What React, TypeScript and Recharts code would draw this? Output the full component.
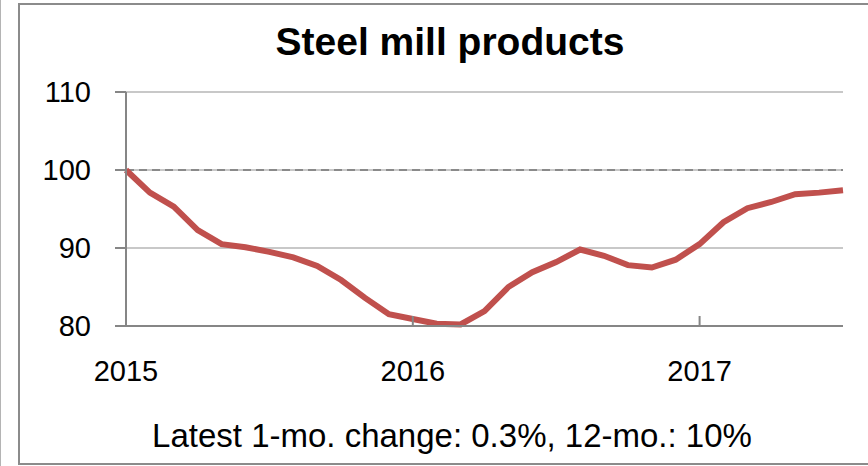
import React from 'react';
import { LineChart, Line, XAxis, YAxis, CartesianGrid, ReferenceLine } from 'recharts';

const months = [
    '2015-01', '2015-02', '2015-03', '2015-04', '2015-05', '2015-06',
    '2015-07', '2015-08', '2015-09', '2015-10', '2015-11', '2015-12',
    '2016-01', '2016-02', '2016-03', '2016-04', '2016-05', '2016-06',
    '2016-07', '2016-08', '2016-09', '2016-10', '2016-11', '2016-12',
    '2017-01', '2017-02', '2017-03', '2017-04', '2017-05', '2017-06',
    '2017-07',
];
const steelIndex = [
    100, 97.1, 95.3, 92.3, 90.5, 90.1,
    89.5, 88.8, 87.7, 85.9, 83.6, 81.5,
    80.9, 80.3, 80.2, 81.9, 85.0, 86.9,
    88.2, 89.8, 89.0, 87.8, 87.5, 88.5,
    90.5, 93.3, 95.1, 95.9, 96.9, 97.1,
    97.4,
];
const yearTicks = ['2015-01', '2016-01', '2017-01'];
const yTicks = [80, 90, 100, 110];
const title = 'Steel mill products';
const footnote = 'Latest 1-mo. change: 0.3%, 12-mo.: 10%';

const font = '"Liberation Sans", Arial, sans-serif';
const axisGray = '#868686';

const YearTick = (props: any) => {
    const { x, y, payload } = props;
    return (
        <g>
            <line x1={x} x2={x} y1={y - 10} y2={y} stroke={axisGray} strokeWidth={2} />
            <text x={x} y={y + 55} textAnchor="middle" fontSize={29} fontFamily={font} fill="#000">
                {String(payload.value).slice(0, 4)}
            </text>
        </g>
    );
};

const App = () => {
    const data = months.map((m, i) => ({ month: m, value: steelIndex[i] }));
    return (
        <div style={{ position: 'absolute', left: 0, top: 0, width: 868, height: 466, overflow: 'hidden', background: '#fff' }}>
            <div style={{ position: 'absolute', left: 0, top: 0, width: 1, height: 466, background: '#b4b4b4' }} />
            <div
                style={{
                    position: 'absolute', left: 18, top: 3, width: 900, height: 462,
                    boxSizing: 'border-box', border: '2px solid #8b8b8b',
                }}
            />
            <div style={{ position: 'absolute', left: 0, top: 0 }}>
                <LineChart width={868} height={466} data={data} margin={{ top: 92, right: 25, bottom: 100, left: 0 }}>
                    <CartesianGrid vertical={false} stroke="#c8c8c8" strokeWidth={2} />
                    <XAxis
                        dataKey="month"
                        ticks={yearTicks}
                        interval={0}
                        height={40}
                        tickSize={0}
                        tickMargin={0}
                        tickLine={false}
                        axisLine={{ stroke: axisGray, strokeWidth: 2 }}
                        tick={<YearTick />}
                    />
                    <YAxis
                        domain={[80, 110]}
                        ticks={yTicks}
                        width={126}
                        tickSize={11}
                        tickMargin={24}
                        tickLine={{ stroke: axisGray, strokeWidth: 2 }}
                        axisLine={{ stroke: axisGray, strokeWidth: 2 }}
                        tick={{ fontSize: 29, fill: '#000', fontFamily: font }}
                    />
                    <ReferenceLine y={100} stroke="#8a8a8a" strokeWidth={2} strokeDasharray="8 5" />
                    <Line
                        type="linear"
                        dataKey="value"
                        stroke="#C0504D"
                        strokeWidth={6}
                        dot={false}
                        isAnimationActive={false}
                    />
                </LineChart>
            </div>
            <svg width={868} height={466} style={{ position: 'absolute', left: 0, top: 0, pointerEvents: 'none' }}>
                <text x={450} y={55} textAnchor="middle" fontSize={39} fontWeight="bold" fontFamily={font} fill="#000">
                    {title}
                </text>
                <text x={452} y={447} textAnchor="middle" fontSize={33} fontFamily={font} fill="#000">
                    {footnote}
                </text>
            </svg>
        </div>
    );
};

export default App;
